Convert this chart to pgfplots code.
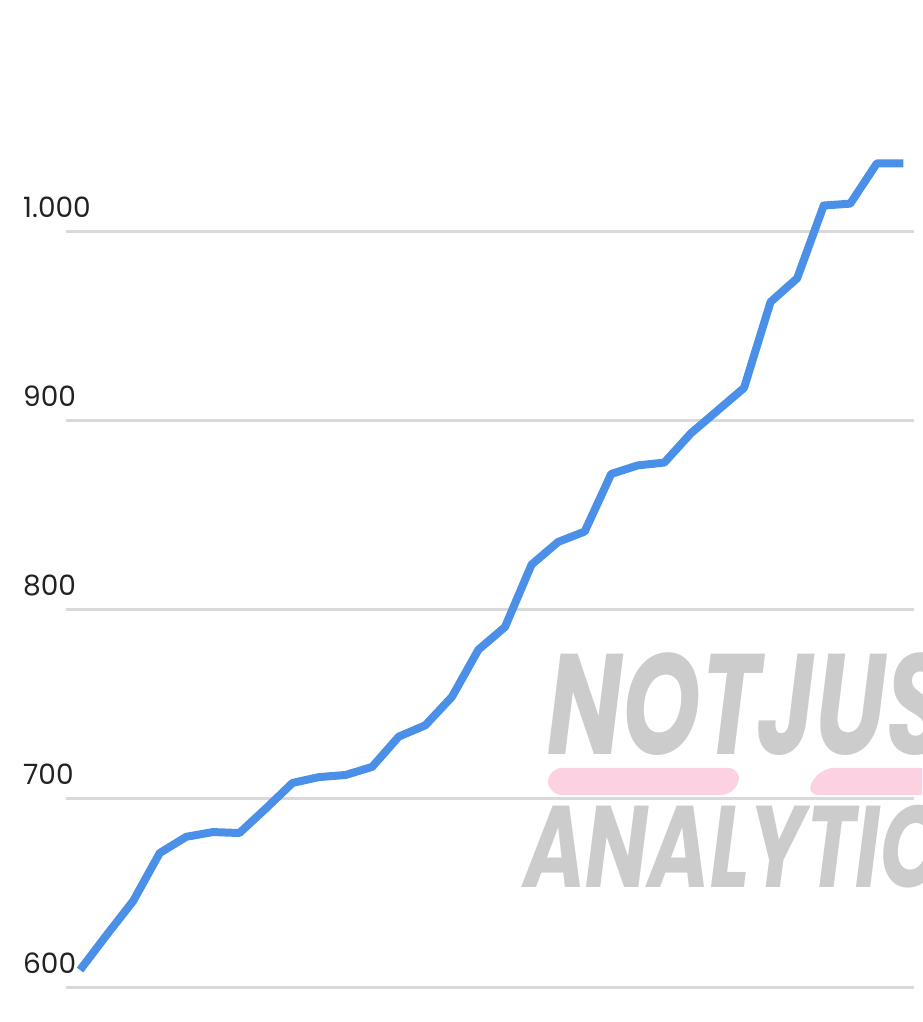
\documentclass[border=0pt]{standalone}
\usepackage{fontspec}
\setmainfont{Poppins}
\newfontfamily\wmfont{Poppins}
\usepackage{graphicx}
\usepackage{pgfplots}
\pgfplotsset{compat=1.18}
\definecolor{lineblue}{RGB}{74,144,232}
\definecolor{gridgray}{RGB}{217,217,217}
\definecolor{wmgray}{RGB}{204,204,204}
\definecolor{wmpink}{RGB}{252,210,226}
\definecolor{lblcol}{RGB}{34,34,34}
\begin{document}
\begin{tikzpicture}[x=1pt,y=1pt]
\path[use as bounding box] (0,0) rectangle (922,1022);
\begin{scope}
\clip (0,0) rectangle (922,1022);
% watermark
\fill[wmpink, rounded corners=14pt] (548,254) -- (742,254) -- (735,227) -- (548,227) -- cycle;
\fill[wmpink, rounded corners=14pt] (820,254) -- (960,254) -- (960,227) -- (805,227) -- cycle;
\node[anchor=base west, inner sep=0pt, text=wmgray] at (547,267)
  {\scalebox{0.70}[1]{\fontsize{143}{143}\selectfont\wmfont\bfseries\itshape NOT\kern-4pt JUST}};
\node[anchor=base west, inner sep=0pt, text=wmgray] at (524,134)
  {\scalebox{0.72}[1]{\fontsize{116}{116}\selectfont\wmfont\bfseries\itshape ANALYTICS}};
\end{scope}
\begin{axis}[
  at={(66pt,34pt)}, anchor=south west,
  scale only axis, width=848pt, height=982.8pt,
  xmin=-0.528, xmax=31.4, ymin=600, ymax=1120,
  axis line style={draw=none},
  xtick=\empty,
  ytick={600,700,800,900,1000},
  ymajorgrids,
  major tick length=0pt,
  grid style={line width=3pt, color=gridgray},
  /pgf/number format/assume math mode=true,
  /pgf/number format/1000 sep={.},
  yticklabel style={anchor=base west, inner sep=0pt, xshift=-43pt, yshift=14pt,
    font=\fontsize{28}{28}\selectfont, text=lblcol},
  clip=false,
]
\addplot[lineblue, line width=8pt, line join=round] coordinates {
(0,609.5) (1,628) (2,646) (3,671.4) (4,680) (5,682.5) (6,682) (7,695)
(8,708.5) (9,711.6) (10,712.7) (11,717) (12,733) (13,739) (14,754) (15,779)
(16,791) (17,824) (18,836) (19,841.5) (20,872) (21,876.5) (22,878) (23,893.5)
(24,905.5) (25,917.5) (26,963) (27,975.5) (28,1014) (29,1015) (30,1036.3) (31,1036.3)
};
\end{axis}
\end{tikzpicture}
\end{document}
